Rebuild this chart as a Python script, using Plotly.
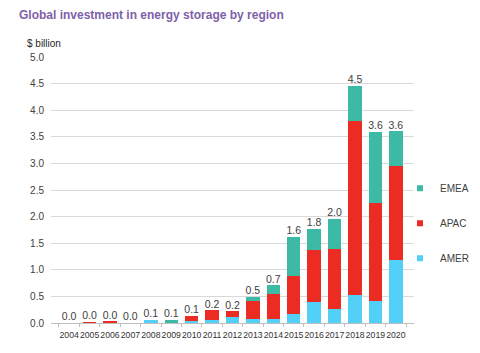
import plotly.graph_objects as go

years = [str(y) for y in range(2004, 2021)]
amer = [0.0, 0.005, 0.005, 0.0, 0.06, 0.0, 0.03, 0.05, 0.11, 0.07, 0.07, 0.16, 0.39, 0.26, 0.53, 0.42, 1.18]
apac = [0.0, 0.012, 0.015, 0.0, 0.0, 0.0, 0.10, 0.19, 0.11, 0.34, 0.47, 0.73, 0.99, 1.14, 3.27, 1.84, 1.77]
emea = [0.0, 0.0, 0.0, 0.0, 0.0, 0.06, 0.0, 0.0, 0.0, 0.08, 0.17, 0.73, 0.39, 0.56, 0.66, 1.33, 0.65]

series = [("AMER", amer, "#52D0F8"), ("APAC", apac, "#EC2B23"), ("EMEA", emea, "#3DBAA5")]

totals = [a + b + c for a, b, c in zip(amer, apac, emea)]
total_labels = [f"{t:.1f}" for t in totals]

fig = go.Figure()
for name, vals, col in series:
    fig.add_trace(go.Bar(x=years, y=vals, name=name, marker=dict(color=col, line=dict(width=0)),
                         showlegend=False))
# legend proxies with small square markers (top-to-bottom: EMEA, APAC, AMER)
for name, vals, col in reversed(series):
    fig.add_trace(go.Scatter(x=[None], y=[None], mode="markers", name=name, legendgroup=name,
                             marker=dict(symbol="square", size=6, color=col)))

fig.add_trace(go.Scatter(x=years, y=totals, mode="text", text=total_labels,
                         textposition="top center", showlegend=False, hoverinfo="skip",
                         textfont=dict(size=10.5, color="#404040", family="Liberation Sans, Arial")))

fig.update_layout(
    width=480, height=353,
    margin=dict(l=51, r=66, t=57, b=30, autoexpand=False),
    paper_bgcolor="white", plot_bgcolor="white",
    barmode="stack", bargap=0.34,
    font=dict(family="Liberation Sans, Arial", size=10, color="#404040"),
    title=dict(text="<b>Global investment in energy storage by region</b>",
               x=19 / 480, xanchor="left", xref="container",
               y=1 - 15 / 353, yanchor="middle", yref="container",
               font=dict(size=12, color="#7E5FAA", family="Liberation Sans, Arial")),
    legend=dict(x=(400 - 51) / 363, xanchor="left", y=0.375, yanchor="middle",
                traceorder="grouped", tracegroupgap=16,
                font=dict(size=10, color="#404040"), bgcolor="rgba(0,0,0,0)",
                itemwidth=30),
    xaxis=dict(type="category", tickfont=dict(size=8.7, color="#333333"), tickangle=0,
               showgrid=False, showline=True, linecolor="#BFBFBF", linewidth=1,
               ticks="outside", tickson="boundaries", ticklen=3, tickcolor="#BFBFBF",
               ticklabelstandoff=4),
    yaxis=dict(range=[0, 5], dtick=0.5, tickformat=".1f", showgrid=True, gridcolor="#D9D9D9",
               gridwidth=1, zeroline=False, showline=False, ticks="", ticklabelstandoff=6,
               tickfont=dict(size=10, color="#404040")),
    annotations=[dict(text="$ billion", xref="paper", yref="paper", x=-26 / 363, y=(323 - 43) / 266,
                      xanchor="left", yanchor="middle", showarrow=False,
                      font=dict(size=10, color="#262626"))],
)

fig.write_html("out.html")
